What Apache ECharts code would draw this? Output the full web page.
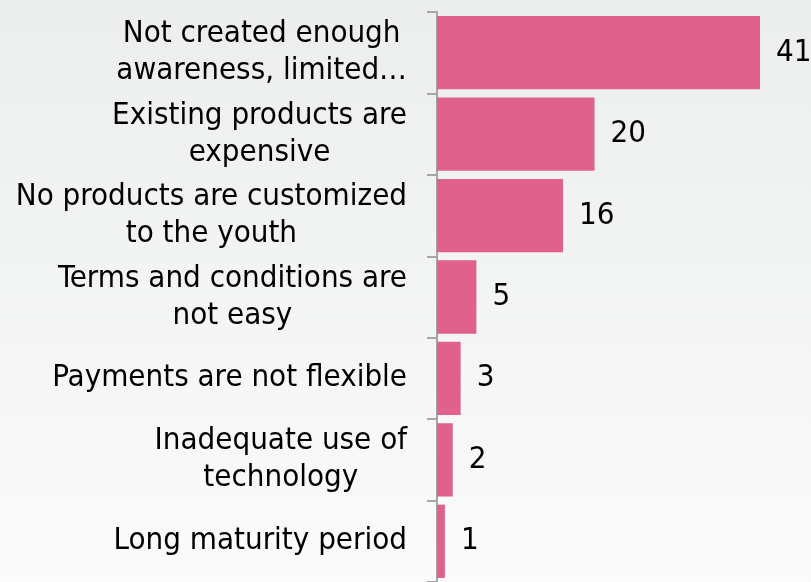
<!DOCTYPE html>
<html>
<head>
<meta charset="utf-8">
<script src="https://cdn.jsdelivr.net/npm/echarts@6/dist/echarts.min.js"></script>
<style>
  html, body { margin: 0; padding: 0; }
  #chart {
    width: 811px; height: 582px;
    background: linear-gradient(to bottom, #eceeee 0%, #f3f4f4 50%, #fbfbfb 100%);
  }
</style>
</head>
<body>
<div id="chart"></div>
<script>
// Reasons given, top to bottom
const categories = [
  'Not created enough\nawareness, limited…',
  'Existing products are\nexpensive',
  'No products are customized\nto the youth',
  'Terms and conditions are\nnot easy',
  'Payments are not flexible',
  'Inadequate use of\ntechnology',
  'Long maturity period'
];
// Number of respondents per reason
const counts = [41, 20, 16, 5, 3, 2, 1];

const FONT = '"DejaVu Sans Condensed", "DejaVu Sans", sans-serif';

const chart = echarts.init(document.getElementById('chart'));
chart.setOption({
  backgroundColor: 'transparent',
  animation: false,
  grid: { left: 437, right: 51, top: 12, bottom: -2, containLabel: false },
  xAxis: {
    type: 'value', min: 0, max: 41, show: false
  },
  yAxis: {
    type: 'category',
    inverse: true,
    data: categories,
    axisLine: { show: true, lineStyle: { color: '#a6a6a6', width: 2 } },
    axisTick: { show: true, length: 10, lineStyle: { color: '#a6a6a6', width: 2 } },
    axisLabel: {
      margin: 30,
      align: 'right',
      formatter: v => '{c|' + v + '}',
      rich: {
        c: {
          align: 'center',
          fontFamily: FONT,
          fontSize: 31,
          lineHeight: 37,
          color: '#000'
        }
      }
    },
    splitLine: { show: false }
  },
  series: [{
    type: 'bar',
    data: counts,
    barCategoryGap: '10%',
    itemStyle: { color: '#e0618b' },
    label: {
      show: true,
      position: 'right',
      distance: 16,
      fontFamily: FONT,
      fontSize: 31,
      color: '#000'
    }
  }]
});
</script>
</body>
</html>
